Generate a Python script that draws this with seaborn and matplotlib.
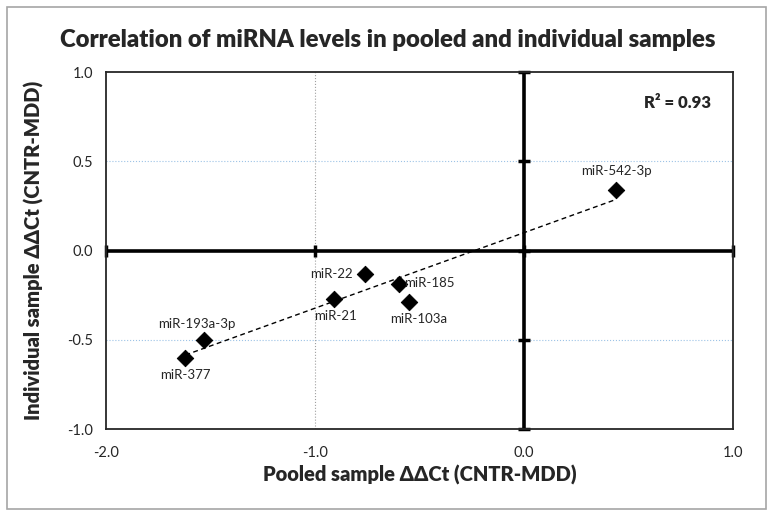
import matplotlib.pyplot as plt
import numpy as np
import pandas as pd
import seaborn as sns
from matplotlib.patches import Rectangle

# Data
mirnas = ['miR-542-3p', 'miR-22', 'miR-21', 'miR-185', 'miR-103a', 'miR-193a-3p', 'miR-377']
pooled = [0.44, -0.76, -0.91, -0.60, -0.55, -1.53, -1.62]
individual = [0.34, -0.13, -0.27, -0.19, -0.29, -0.50, -0.60]
r2_text = 'R² = 0.93'

x_ticks = [-2.0, -1.0, 0.0, 1.0]
y_ticks = [-1.0, -0.5, 0.0, 0.5, 1.0]

# label offsets (points) and alignment
label_pos = {
    'miR-542-3p': ((0, 9), 'center', 'bottom'),
    'miR-22': ((-9, 0), 'right', 'center'),
    'miR-21': ((1, -8), 'center', 'top'),
    'miR-185': ((4, 1), 'left', 'center'),
    'miR-103a': ((7, -8), 'center', 'top'),
    'miR-193a-3p': ((-5, 7), 'center', 'bottom'),
    'miR-377': ((0, -8), 'center', 'top'),
}

df = pd.DataFrame({'mirna': mirnas, 'pooled': pooled, 'individual': individual})

sns.set_style('white')
plt.rcParams['font.family'] = ['Lato', 'DejaVu Sans']

fig = plt.figure(figsize=(7.72, 5.17), dpi=100)
ax = fig.add_axes([0.1373, 0.1702, 0.8122, 0.6905])

# outer chart border
fig.patches.append(Rectangle((0.009, 0.015), 0.983, 0.972, transform=fig.transFigure,
                             fill=False, edgecolor='#a6a6a6', lw=1.2))

ax.set_xlim(-2, 1)
ax.set_ylim(-1, 1)

# gridlines
for y in [0.5, -0.5]:
    ax.axhline(y, color='#9dc3e6', lw=0.8, ls=':', zorder=0)
ax.axvline(-1, color='#a0a0a0', lw=0.8, ls=':', zorder=0)

# thick zero axes with their own tick marks
ax.axhline(0, color='black', lw=2.6, zorder=1)
ax.axvline(0, color='black', lw=2.6, zorder=1)
ax.plot([0] * len(y_ticks), y_ticks, ls='none', marker='_', ms=9, mew=2.5, color='black', clip_on=False, zorder=1)
ax.plot(x_ticks, [0] * len(x_ticks), ls='none', marker='|', ms=9, mew=2.5, color='black', clip_on=False, zorder=1)

# trend line
coef = np.polyfit(df['pooled'], df['individual'], 1)
xs = np.array([df['pooled'].min(), df['pooled'].max()])
ax.plot(xs, np.polyval(coef, xs), color='black', ls=(0, (3.5, 2.5)), lw=1.0, zorder=2)

sns.scatterplot(data=df, x='pooled', y='individual', marker='D', s=70, color='black',
                edgecolor='black', ax=ax, zorder=3, legend=False)

for name, xv, yv in zip(mirnas, pooled, individual):
    off, ha, va = label_pos[name]
    ax.annotate(name, (xv, yv), xytext=off, textcoords='offset points',
                ha=ha, va=va, fontsize=9.5, color='#262626')

ax.text(0.895, 0.826, r2_text, fontsize=12, fontweight='heavy', ha='right', va='center')

for s in ax.spines.values():
    s.set_color('#262626')
    s.set_linewidth(1.3)

ax.set_xticks(x_ticks)
ax.set_yticks(y_ticks)
ax.set_xticklabels([f'{t:.1f}' for t in x_ticks])
ax.set_yticklabels([f'{t:.1f}' for t in y_ticks])
ax.tick_params(axis='x', length=0, labelsize=10.5, colors='#262626', pad=12)
ax.tick_params(axis='y', length=0, labelsize=10.5, colors='#262626', pad=9)

ax.set_xlabel('Pooled sample \u0394\u0394Ct (CNTR-MDD)', fontsize=14.5, fontweight='heavy', labelpad=4)
ax.set_ylabel('Individual sample \u0394\u0394Ct (CNTR-MDD)', fontsize=14.5, fontweight='heavy', labelpad=17)
fig.suptitle('Correlation of miRNA levels in pooled and individual samples',
             fontsize=17.2, fontweight='heavy', x=0.502, y=0.923, va='center')

fig.savefig('out.png', dpi=100)
